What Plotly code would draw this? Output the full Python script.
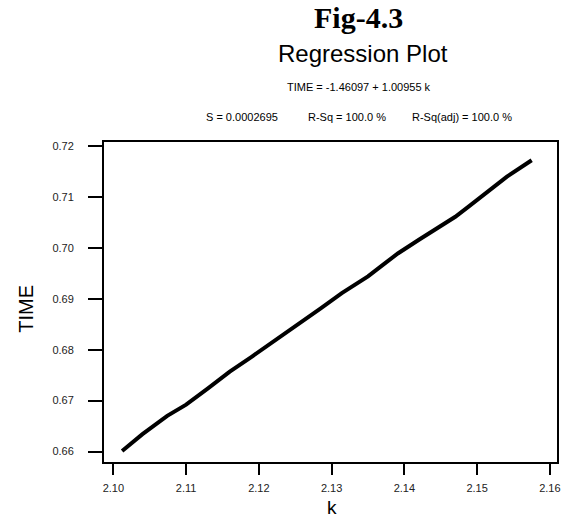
import plotly.graph_objects as go

# Data
k_vals = [2.1012, 2.1040, 2.1074, 2.1100, 2.1130, 2.1160, 2.1190, 2.1212, 2.1235,
          2.1260, 2.1285, 2.1314, 2.1350, 2.1370, 2.1391, 2.1420, 2.1446, 2.1470,
          2.1490, 2.1515, 2.1541, 2.1575]
time_vals = [0.6601, 0.6634, 0.6670, 0.6692, 0.6724, 0.6757, 0.6786, 0.6808, 0.6829,
             0.6854, 0.6881, 0.6911, 0.6944, 0.6966, 0.6989, 0.7016, 0.7039, 0.7061,
             0.7083, 0.7111, 0.7140, 0.7172]
x_ticks = [2.10, 2.11, 2.12, 2.13, 2.14, 2.15, 2.16]
x_tick_labels = ["2.10", "2.11", "2.12", "2.13", "2.14", "2.15", "2.16"]
y_ticks = [0.66, 0.67, 0.68, 0.69, 0.70, 0.71, 0.72]
y_tick_labels = ["0.66", "0.67", "0.68", "0.69", "0.70", "0.71", "0.72"]

W, H = 566, 522
L, R, T, B = 104, 5, 142, 60
pw, ph = W - L - R, H - T - B

def px(x):
    return (x - L) / pw

def py(y):
    return (H - B - y) / ph

fig = go.Figure()
fig.add_trace(go.Scatter(x=k_vals, y=time_vals, mode="lines",
                         line=dict(color="black", width=4), showlegend=False,
                         hoverinfo="skip"))

font = "Liberation Sans, Arial, sans-serif"

def text(t, x, y, size, xanchor="center", fam=font, angle=0):
    return dict(text=t, x=px(x), y=py(y), xref="paper", yref="paper",
                showarrow=False, xanchor=xanchor, yanchor="middle", textangle=angle,
                font=dict(family=fam, size=size, color="black"))

ann = [
    text("<b>Fig-4.3</b>", 361, 17, 30, fam="Liberation Serif, Times New Roman, serif"),
    text("Regression Plot", 365, 53, 24),
    text("TIME = -1.46097 + 1.00955 k", 361, 87, 11),
    text("S = 0.0002695", 205, 117, 11, xanchor="left"),
    text("R-Sq = 100.0 %", 308, 117, 11, xanchor="left"),
    text("R-Sq(adj) = 100.0 %", 413, 117, 11, xanchor="left"),
    text("TIME", 25, 309, 20, angle=-90),
    text("k", 334, 507, 19),
]

fig.update_layout(
    width=W, height=H,
    margin=dict(l=L, r=R, t=T, b=B),
    paper_bgcolor="white", plot_bgcolor="white",
    annotations=ann,
    font=dict(family=font, color="black"),
)
fig.update_xaxes(
    range=[2.09871, 2.16098], tickvals=x_ticks, ticktext=x_tick_labels,
    showline=True, linecolor="black", linewidth=2, mirror=True,
    ticks="outside", ticklen=11, tickwidth=2, tickcolor="black",
    ticklabelstandoff=4,
    showgrid=False, zeroline=False,
    tickfont=dict(family=font, size=11, color="#222"),
)
fig.update_yaxes(
    range=[0.65794, 0.72079], tickvals=y_ticks, ticktext=y_tick_labels,
    showline=True, linecolor="black", linewidth=2, mirror=True,
    ticks="outside", ticklen=14, tickwidth=2, tickcolor="black",
    ticklabelstandoff=12,
    showgrid=False, zeroline=False,
    tickfont=dict(family=font, size=11, color="#222"),
)

fig.write_html("out.html")
